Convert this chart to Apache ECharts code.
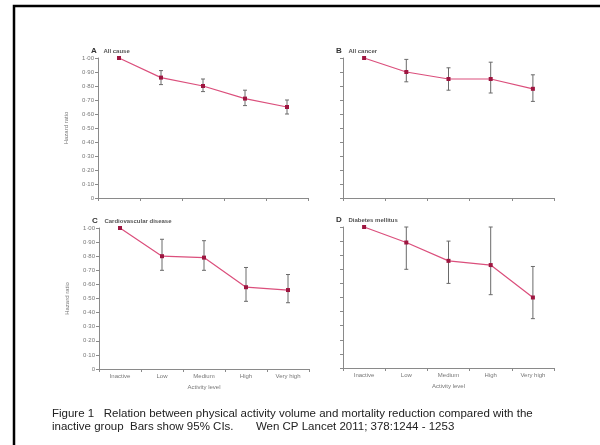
<!DOCTYPE html>
<html>
<head>
<meta charset="utf-8">
<script src="https://cdn.jsdelivr.net/npm/echarts@6/dist/echarts.min.js"></script>
<style>
  html, body { margin: 0; padding: 0; background: #fff; }
  #chart { width: 600px; height: 445px; }
</style>
</head>
<body>
<div id="chart"></div>
<script>
// Activity level categories shared by all four panels
const categories = ['Inactive', 'Low', 'Medium', 'High', 'Very high'];

// Hazard ratios with 95% CI bounds (inactive group is the reference, no CI)
const allCauseHR   = [1.00, 0.86, 0.80, 0.71, 0.65];
const allCauseLo   = [null, 0.81, 0.76, 0.66, 0.60];
const allCauseHi   = [null, 0.91, 0.85, 0.77, 0.70];

const allCancerHR  = [1.00, 0.90, 0.85, 0.85, 0.78];
const allCancerLo  = [null, 0.83, 0.77, 0.75, 0.69];
const allCancerHi  = [null, 0.99, 0.93, 0.97, 0.88];

const cvdHR        = [1.00, 0.80, 0.79, 0.58, 0.56];
const cvdLo        = [null, 0.70, 0.70, 0.48, 0.47];
const cvdHi        = [null, 0.92, 0.91, 0.72, 0.67];

const diabetesHR   = [1.00, 0.89, 0.76, 0.73, 0.50];
const diabetesLo   = [null, 0.70, 0.60, 0.52, 0.35];
const diabetesHi   = [null, 1.00, 0.90, 1.00, 0.72];

const panels = [
  { letter: 'A', title: 'All cause', hr: allCauseHR, lo: allCauseLo, hi: allCauseHi,
    grid: { left: 98, top: 58, width: 210, height: 140 }, yLabels: true, xLabels: false },
  { letter: 'B', title: 'All cancer', hr: allCancerHR, lo: allCancerLo, hi: allCancerHi,
    grid: { left: 343, top: 58, width: 211, height: 140 }, yLabels: false, xLabels: false },
  { letter: 'C', title: 'Cardiovascular disease', hr: cvdHR, lo: cvdLo, hi: cvdHi,
    grid: { left: 99, top: 228, width: 210, height: 141 }, yLabels: true, xLabels: true },
  { letter: 'D', title: 'Diabetes mellitus', hr: diabetesHR, lo: diabetesLo, hi: diabetesHi,
    grid: { left: 343, top: 227, width: 211, height: 141 }, yLabels: false, xLabels: true }
];

const axisGrey = '#8a8a8a';
const labelGrey = '#777';
const lineColor = '#db4f7c';
const dotColor = '#9e1640';
const barColor = '#6a6a6a';
const font = 'Liberation Sans, Arial, sans-serif';

const grids = [], xAxes = [], yAxes = [], series = [], graphics = [];

panels.forEach((p, i) => {
  grids.push(Object.assign({ containLabel: false }, p.grid));
  xAxes.push({
    type: 'category', gridIndex: i, data: categories, boundaryGap: true,
    axisLine: { lineStyle: { color: axisGrey, width: 1 } },
    axisTick: { show: true, length: 3, lineStyle: { color: axisGrey } },
    axisLabel: { show: p.xLabels, color: labelGrey, fontSize: 6, fontFamily: font, margin: 4 },
    name: p.xLabels ? 'Activity level' : '',
    nameLocation: 'middle', nameGap: 15,
    nameTextStyle: { color: labelGrey, fontSize: 6, fontFamily: font },
    splitLine: { show: false }
  });
  yAxes.push({
    type: 'value', gridIndex: i, min: 0, max: 1, interval: 0.1,
    axisLine: { show: true, lineStyle: { color: axisGrey, width: 1 } },
    axisTick: { show: true, length: 3, lineStyle: { color: axisGrey } },
    axisLabel: {
      show: p.yLabels, color: labelGrey, fontSize: 6, fontFamily: font, margin: 4,
      formatter: v => (v === 0 ? '0' : v.toFixed(2).replace('.', '\u00b7'))
    },
    name: p.yLabels ? 'Hazard ratio' : '',
    nameLocation: 'middle', nameGap: 29, nameRotate: 90,
    nameTextStyle: { color: labelGrey, fontSize: 6, fontFamily: font },
    splitLine: { show: false }
  });

  // 95% CI whiskers
  const ciData = [];
  p.hr.forEach((v, k) => { if (p.lo[k] != null) ciData.push([k, p.lo[k], p.hi[k]]); });
  series.push({
    type: 'custom', xAxisIndex: i, yAxisIndex: i, data: ciData, z: 2,
    renderItem: (params, api) => {
      const x = api.value(0);
      const lo = api.coord([x, api.value(1)]);
      const hi = api.coord([x, api.value(2)]);
      const cap = 2;
      const style = { stroke: barColor, lineWidth: 1, fill: null };
      return {
        type: 'group',
        children: [
          { type: 'line', shape: { x1: lo[0], y1: lo[1], x2: hi[0], y2: hi[1] }, style },
          { type: 'line', shape: { x1: lo[0] - cap, y1: lo[1], x2: lo[0] + cap, y2: lo[1] }, style },
          { type: 'line', shape: { x1: hi[0] - cap, y1: hi[1], x2: hi[0] + cap, y2: hi[1] }, style }
        ]
      };
    }
  });

  // hazard ratio line with point markers
  series.push({
    type: 'line', xAxisIndex: i, yAxisIndex: i, data: p.hr, z: 3,
    symbol: 'rect', symbolSize: 4,
    lineStyle: { color: lineColor, width: 1.2 },
    itemStyle: { color: dotColor },
    animation: false
  });

  // panel heading
  const tx = p.grid.left - 7;
  const ty = p.grid.top - 9;
  graphics.push({
    type: 'text', left: tx, top: ty - 4,
    style: {
      text: '{l|' + p.letter + '}  {t|' + p.title + '}',
      rich: {
        l: { fontSize: 8, fontWeight: 'bold', fill: '#333', fontFamily: font },
        t: { fontSize: 6, fontWeight: 'bold', fill: '#555', fontFamily: font }
      }
    }
  });
});

// outer frame
graphics.push({
  type: 'rect', shape: { x: 14, y: 6, width: 620, height: 460 },
  style: { fill: null, stroke: '#000', lineWidth: 2.5 }, z: 10
});

// caption
graphics.push({
  type: 'text', left: 52, top: 407,
  style: {
    text: 'Figure 1   Relation between physical activity volume and mortality reduction compared with the\ninactive group  Bars show 95% CIs.       Wen CP Lancet 2011; 378:1244 - 1253',
    fontSize: 11.5, lineHeight: 13, fill: '#222', fontFamily: font
  }
});

const chart = echarts.init(document.getElementById('chart'), null, { renderer: 'canvas' });
chart.setOption({
  backgroundColor: '#fff',
  animation: false,
  grid: grids,
  xAxis: xAxes,
  yAxis: yAxes,
  series: series,
  graphic: graphics
});
</script>
</body>
</html>
